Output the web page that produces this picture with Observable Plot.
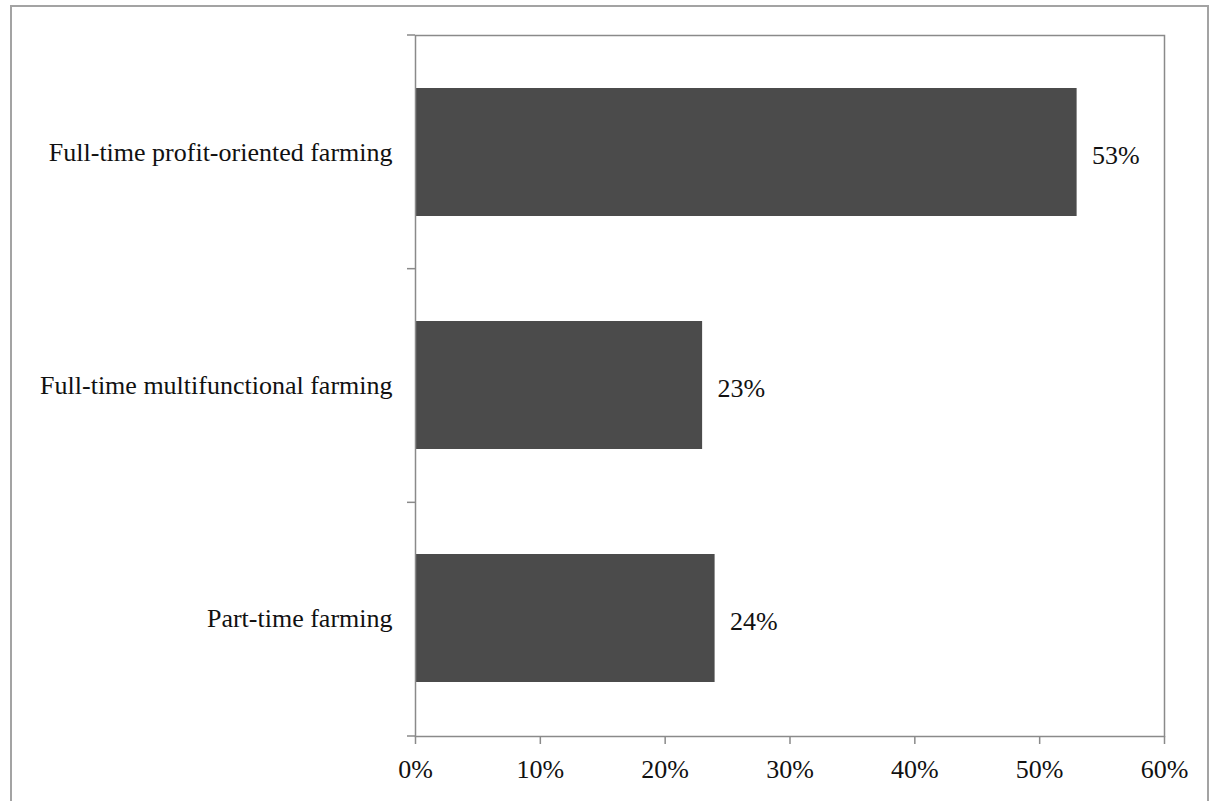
<!DOCTYPE html>
<html>
<head>
<meta charset="utf-8">
<script src="https://cdn.jsdelivr.net/npm/d3@7"></script>
<script src="https://cdn.jsdelivr.net/npm/@observablehq/plot@0.6"></script>
<style>
  html, body { margin: 0; padding: 0; background: #fff; }
  #wrap { position: relative; width: 1215px; height: 801px; overflow: hidden; background: #fff; }
  #border { position: absolute; left: 10px; top: 5px; width: 1199px; height: 900px;
            border: 2px solid #a3a3a3; box-sizing: border-box; pointer-events: none; }
  #chart { position: absolute; left: 0; top: 0; }
</style>
</head>
<body>
<div id="wrap">
  <div id="chart"></div>
  <div id="border"></div>
</div>
<script>
// Share of farm types (percent)
const categories = [
  "Full-time profit-oriented farming",
  "Full-time multifunctional farming",
  "Part-time farming"
];
const shares = [53, 23, 24];
const xTicks = [0, 10, 20, 30, 40, 50, 60];

const data = categories.map((c, i) => ({category: c, value: shares[i]}));

const axisColor = "#8a8a8a";
const textColor = "#111";
const fontSize = 26;

// Category boundary ticks on the left axis (between bands)
function bandBoundaryTicks(index, scales, values, dimensions) {
  const {marginTop, marginBottom, marginLeft, height} = dimensions;
  const n = categories.length;
  const step = (height - marginTop - marginBottom) / n;
  const g = d3.create("svg:g");
  for (let i = 0; i <= n; i++) {
    const y = marginTop + i * step;
    g.append("line")
      .attr("x1", marginLeft - 8).attr("x2", marginLeft)
      .attr("y1", y).attr("y2", y)
      .attr("stroke", axisColor).attr("stroke-width", 1.5);
  }
  return g.node();
}

const chart = Plot.plot({
  width: 1215,
  height: 801,
  marginLeft: 415,
  marginRight: 51,
  marginTop: 35,
  marginBottom: 65,
  style: {
    fontFamily: "'Liberation Serif', 'Times New Roman', serif",
    fontSize: fontSize + "px",
    color: textColor,
    background: "transparent"
  },
  x: {domain: [0, 60]},
  y: {domain: categories, paddingInner: 0.45, paddingOuter: 0.225},
  marks: [
    Plot.barX(data, {x: "value", y: "category", fill: "#4b4b4b"}),
    Plot.frame({stroke: axisColor, strokeWidth: 1.5}),
    Plot.axisX({
      ticks: xTicks,
      tickFormat: d => d + "%",
      tickSize: 8,
      tickPadding: 15,
      stroke: axisColor,
      strokeWidth: 1.5,
      fontSize: fontSize,
      fill: textColor,
      label: null
    }),
    Plot.axisY({
      tickSize: 0,
      tickPadding: 23,
      fontSize: fontSize,
      fill: textColor,
      label: null
    }),
    bandBoundaryTicks,
    Plot.text(data, {
      x: "value",
      y: "category",
      text: d => d.value + "%",
      textAnchor: "start",
      dx: 15,
      dy: 3,
      fontSize: fontSize,
      fill: textColor
    })
  ]
});

document.getElementById("chart").appendChild(chart);
</script>
</body>
</html>
